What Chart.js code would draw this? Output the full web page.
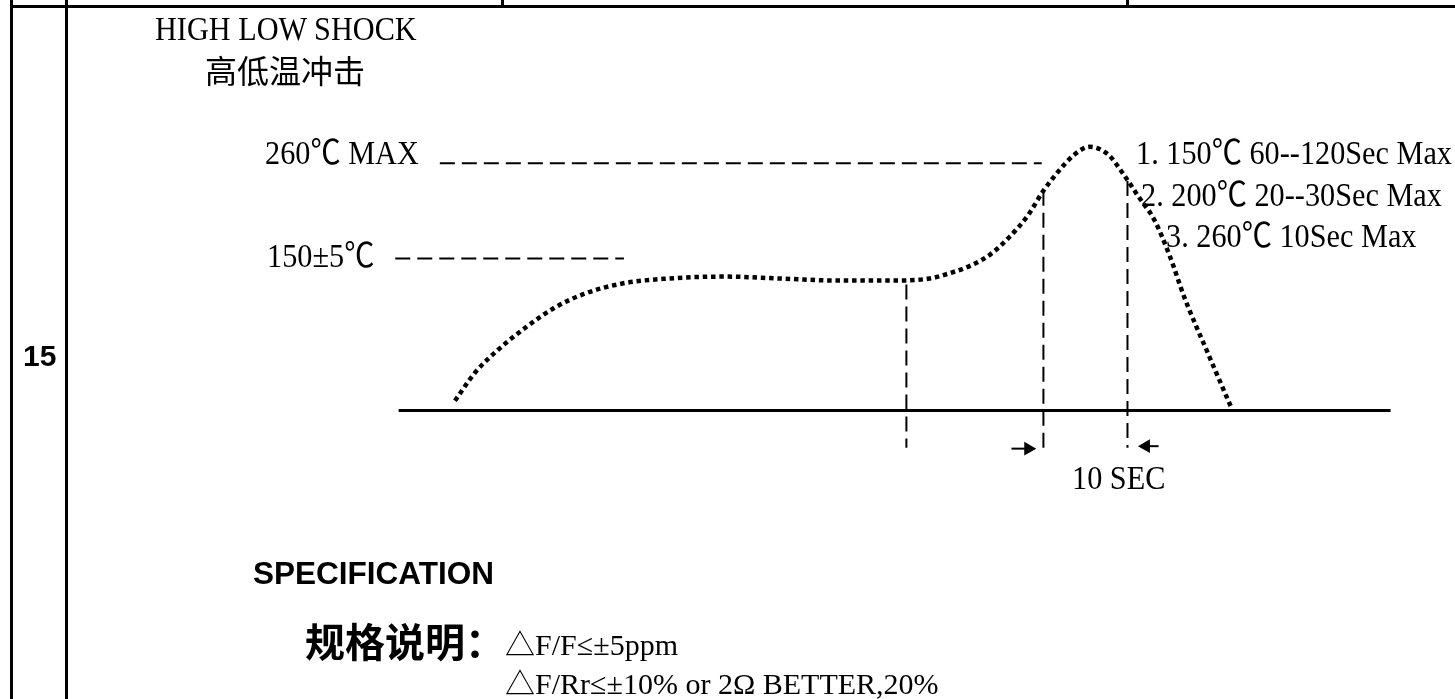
<!DOCTYPE html>
<html>
<head>
<meta charset="utf-8">
<script src="https://cdn.jsdelivr.net/npm/chart.js@4.4.1/dist/chart.umd.min.js"></script>
<style>
html,body{margin:0;padding:0;background:#fff;width:1455px;height:699px;overflow:hidden;}
#chartBox{position:absolute;left:0;top:0;width:1455px;height:699px;}
.rule{position:absolute;background:#000;}
.t{position:absolute;white-space:nowrap;line-height:1;color:#000;}
.serif{font-family:"Liberation Serif","Noto Sans CJK SC",serif;font-size:34px;transform:scaleX(0.89);transform-origin:0 0;}
.spec{font-family:"Liberation Serif","Noto Sans CJK SC",serif;font-size:30px;}
.sans{font-family:"Liberation Sans",Arial,sans-serif;font-weight:bold;}
.cjk{font-family:"Noto Sans CJK SC",sans-serif;}
</style>
</head>
<body>
<div id="chartBox"><canvas id="c"></canvas></div>

<!-- table frame -->
<div class="rule" style="left:10px;top:5px;width:1445px;height:3px;"></div>
<div class="rule" style="left:10px;top:0px;width:3px;height:699px;"></div>
<div class="rule" style="left:65px;top:0px;width:3px;height:699px;"></div>
<div class="rule" style="left:501px;top:0px;width:3px;height:6px;"></div>
<div class="rule" style="left:1126px;top:0px;width:3px;height:6px;"></div>

<div class="t sans" style="left:23px;top:341px;font-size:30px;">15</div>

<div class="t serif" style="left:155px;top:12px;">HIGH LOW SHOCK</div>
<div class="t cjk" style="left:205px;top:53px;font-size:32px;">高低温冲击</div>

<div class="t serif" style="left:265px;top:136px;">260℃ MAX</div>
<div class="t serif" style="left:267px;top:239px;">150±5℃</div>

<div class="t serif" style="left:1136px;top:136px;">1. 150℃ 60--120Sec Max</div>
<div class="t serif" style="left:1141px;top:178px;">2. 200℃ 20--30Sec Max</div>
<div class="t serif" style="left:1166px;top:219px;">3. 260℃ 10Sec Max</div>

<div class="t serif" style="left:1072px;top:461px;">10 SEC</div>

<div class="t sans" style="left:253px;top:558px;font-size:31.5px;">SPECIFICATION</div>
<div class="t cjk" style="left:305px;top:620px;font-size:40px;font-weight:bold;">规格说明：</div>
<div class="t spec" style="left:505px;top:630px;">△F/F≤±5ppm</div>
<div class="t spec" style="left:505px;top:669px;">△F/Rr≤±10% or 2Ω BETTER,20%</div>

<script>
// ---- data ----
// x: time in seconds (the marked window is 10 SEC), y: relative level (baseline 0, 260℃ MAX line = 100)
const profileTimeSec = [6.7, 9.1, 11.8, 15.1, 18.5, 21.9, 26.6, 32.0, 38.7, 45.5, 52.2, 59.1, 63.1, 65.3, 68.2, 70.4, 72.6, 74.8, 76.7, 78.5, 80.4, 82.2, 84.4, 86.2, 88.0, 89.9, 91.7, 93.5, 96.2, 99.1];
const profileLevel   = [4.0, 15.4, 24.5, 33.6, 41.5, 47.0, 51.4, 53.4, 54.2, 53.4, 52.6, 52.6, 53.4, 55.3, 58.9, 63.2, 70.0, 78.7, 88.9, 96.8, 103.6, 106.7, 103.6, 95.7, 86.6, 77.1, 62.8, 45.5, 23.7, 0.8];

const peakRefLevel = 100;
const peakRefSpan = [4.9, 76.5];
const soakRefLevel = 61.5;
const soakRefSpan = [-0.4, 26.8];

const markerTimes = [60.4, 76.7, 86.7];
const markerTops = [51.0, 88.9, 92.9];
const markerBottoms = [-15.0, -15.8, -15.0];

const baselineSpan = [0, 118];

const arrowRightShaft = [72.9, 74.6];
const arrowRightHead = 74.9;
const arrowRightLevel = -15.4;
const arrowLeftShaft = [89.2, 90.4];
const arrowLeftHead = 88.9;
const arrowLeftLevel = -14.4;

const xRange = [-46.47, 124.71];
const yRange = [-113.44, 162.85];

// ---- build datasets ----
const line = (pts, extra) => Object.assign({
  data: pts, showLine: true, pointRadius: 0, borderColor: '#000', backgroundColor: '#000',
  borderWidth: 2, fill: false, tension: 0
}, extra || {});

const datasets = [];
datasets.push(line(baselineSpan.map(x => ({x, y: 0})), {borderWidth: 3}));
datasets.push(line(peakRefSpan.map(x => ({x, y: peakRefLevel})), {borderDash: [15, 7]}));
datasets.push(line(soakRefSpan.map(x => ({x, y: soakRefLevel})), {borderDash: [15, 7]}));
markerTimes.forEach((t, i) => {
  datasets.push(line([{x: t, y: markerTops[i]}, {x: t, y: markerBottoms[i]}], {borderDash: [15, 7]}));
});
datasets.push(line(profileTimeSec.map((x, i) => ({x, y: profileLevel[i]})), {
  borderWidth: 4.5, borderDash: [4.5, 3.8], cubicInterpolationMode: 'monotone', borderCapStyle: 'butt'
}));
datasets.push(line(arrowRightShaft.map(x => ({x, y: arrowRightLevel}))));
datasets.push(line(arrowLeftShaft.map(x => ({x, y: arrowLeftLevel}))));
datasets.push({data: [{x: arrowRightHead, y: arrowRightLevel}], showLine: false, pointStyle: 'triangle',
  rotation: 90, pointRadius: 8, pointBackgroundColor: '#000', pointBorderWidth: 0, borderColor: '#000'});
datasets.push({data: [{x: arrowLeftHead, y: arrowLeftLevel}], showLine: false, pointStyle: 'triangle',
  rotation: -90, pointRadius: 8, pointBackgroundColor: '#000', pointBorderWidth: 0, borderColor: '#000'});

new Chart(document.getElementById('c'), {
  type: 'scatter',
  data: {datasets},
  options: {
    responsive: true, maintainAspectRatio: false, animation: false, events: [],
    layout: {padding: 0},
    plugins: {legend: {display: false}, tooltip: {enabled: false}, title: {display: false}},
    scales: {
      x: {type: 'linear', display: false, min: xRange[0], max: xRange[1]},
      y: {type: 'linear', display: false, min: yRange[0], max: yRange[1]}
    }
  }
});
</script>
</body>
</html>
